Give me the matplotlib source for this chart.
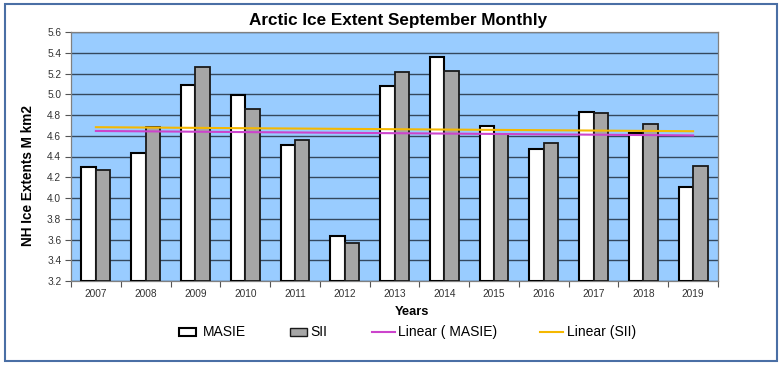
import numpy as np
import matplotlib
matplotlib.use("Agg")
import matplotlib.pyplot as plt
from matplotlib.patches import Rectangle
from matplotlib.lines import Line2D

years = ["2007", "2008", "2009", "2010", "2011", "2012", "2013",
         "2014", "2015", "2016", "2017", "2018", "2019"]
masie = [4.30, 4.43, 5.09, 4.99, 4.51, 3.63, 5.08, 5.36, 4.69, 4.47, 4.83, 4.63, 4.11]
sii = [4.27, 4.68, 5.26, 4.86, 4.56, 3.57, 5.21, 5.22, 4.62, 4.53, 4.82, 4.71, 4.31]
yticks = [3.2, 3.4, 3.6, 3.8, 4.0, 4.2, 4.4, 4.6, 4.8, 5.0, 5.2, 5.4, 5.6]

plt.rcParams['font.family'] = ['Liberation Sans', 'DejaVu Sans']

W, H = 782, 367
fig = plt.figure(figsize=(W / 100, H / 100), dpi=100)
fig.patch.set_facecolor('white')

def fx(px):
    return px / W

def fy(py):
    return 1 - py / H

# outer border
fig.add_artist(Rectangle((fx(5), fy(361)), fx(772), 357 / H, transform=fig.transFigure,
                         fill=False, edgecolor='#4a6fa5', linewidth=1.5))

left, right, top, bottom = 71, 718, 32, 281
ax = fig.add_axes([fx(left), fy(bottom), fx(right - left), (bottom - top) / H])
ax.set_facecolor('#99ccff')

x = np.arange(len(years))
w = 0.29
ax.bar(x - w / 2, [v - 3.2 for v in masie], w, bottom=3.2, color='white',
       edgecolor='black', linewidth=1.5, zorder=3)
ax.bar(x + w / 2, [v - 3.2 for v in sii], w, bottom=3.2, color='#a6a6a6',
       edgecolor='#1a1a1a', linewidth=1.3, zorder=3)

# linear trendlines
pm = np.polyfit(x, masie, 1)
ps = np.polyfit(x, sii, 1)
ax.plot([x[0], x[-1]], np.polyval(pm, [x[0], x[-1]]), color='#cc44cc', lw=1.5, zorder=4)
ax.plot([x[0], x[-1]], np.polyval(ps, [x[0], x[-1]]), color='#f5b800', lw=1.5, zorder=4)

ax.set_xlim(-0.5, len(years) - 0.5)
ax.set_ylim(3.2, 5.6)
ax.set_yticks(yticks)
ax.set_yticklabels([f"{v:.1f}" for v in yticks])
ax.yaxis.grid(True, color='#34485e', linewidth=1.0, zorder=1)
ax.set_axisbelow(True)

ax.set_xticks(np.arange(-0.5, len(years), 1.0))
ax.set_xticklabels([])
ax.set_xticks(x, minor=True)
ax.set_xticklabels(years, minor=True)
ax.tick_params(axis='x', which='major', length=4, color='#555555', width=0.8)
ax.tick_params(axis='x', which='minor', length=0, pad=6, labelsize=7.3, labelcolor='#333333')
ax.tick_params(axis='y', length=4, color='#555555', width=0.8, labelsize=7.3,
               labelcolor='#333333', pad=3)
for s in ax.spines.values():
    s.set_color('#808080')
    s.set_linewidth(0.9)

fig.text(fx(398), fy(21), "Arctic Ice Extent September Monthly", ha='center', va='center',
         fontsize=12.3, fontweight='bold', color='black')
fig.text(fx(28), fy(176), "NH Ice Extents M km2", ha='center', va='center', rotation=90,
         fontsize=9.8, fontweight='bold', color='black')
fig.text(fx(412), fy(312), "Years", ha='center', va='center', fontsize=9.3,
         fontweight='bold', color='black')

# legend
ly = 332
fig.add_artist(Rectangle((fx(179), fy(ly + 4)), fx(17), 8 / H, transform=fig.transFigure,
                         facecolor='white', edgecolor='black', linewidth=1.5))
fig.text(fx(203), fy(ly), "MASIE", ha='left', va='center', fontsize=10, color='black')
fig.add_artist(Rectangle((fx(290), fy(ly + 4)), fx(17), 8 / H, transform=fig.transFigure,
                         facecolor='#a6a6a6', edgecolor='#1a1a1a', linewidth=1.0))
fig.text(fx(310), fy(ly), "SII", ha='left', va='center', fontsize=10, color='black')
fig.add_artist(Line2D([fx(372), fx(395)], [fy(ly), fy(ly)], transform=fig.transFigure,
                      color='#cc44cc', lw=1.5))
fig.text(fx(398), fy(ly), "Linear ( MASIE)", ha='left', va='center', fontsize=10, color='black')
fig.add_artist(Line2D([fx(540), fx(563)], [fy(ly), fy(ly)], transform=fig.transFigure,
                      color='#f5b800', lw=1.5))
fig.text(fx(567), fy(ly), "Linear (SII)", ha='left', va='center', fontsize=10, color='black')

fig.savefig("out.png", dpi=100)
